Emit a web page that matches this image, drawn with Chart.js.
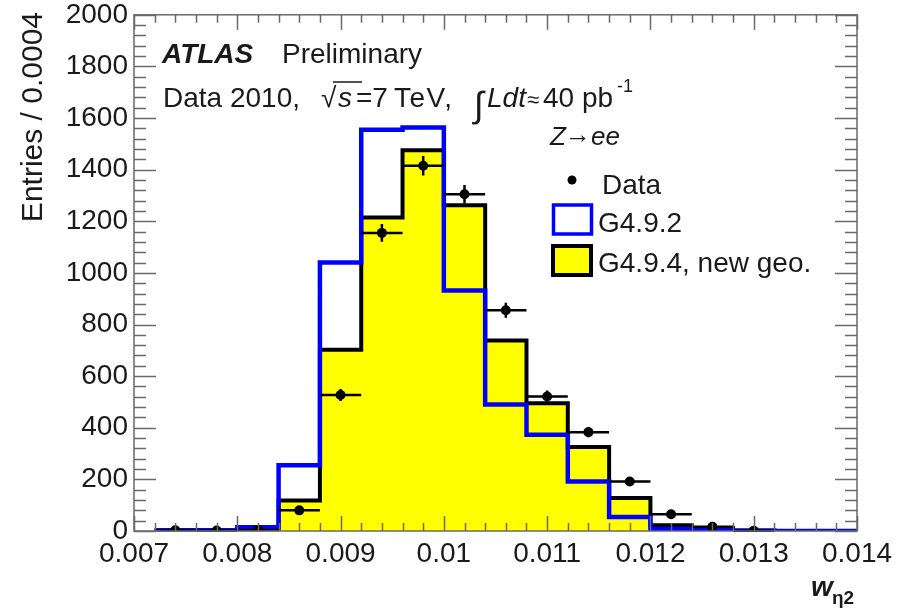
<!DOCTYPE html>
<html>
<head>
<meta charset="utf-8">
<script src="https://cdn.jsdelivr.net/npm/chart.js@4.4.1/dist/chart.umd.min.js"></script>
<style>
html,body{margin:0;padding:0;background:#fff;}
#wrap{width:903px;height:608px;position:relative;}
</style>
</head>
<body>
<div id="wrap"><canvas id="c" width="903" height="608"></canvas></div>
<script>
// ---- data ----
const binEdges = [0.0072,0.0076,0.0080,0.0084,0.0088,0.0092,0.0096,0.0100,0.0104,0.0108,0.0112,0.0116,0.0120,0.0124,0.0128,0.0132,0.0136,0.0140];
const g492 = [3,3,15,255,1040,1555,1563,932,490,373,192,54,8,3,1,0,0];
const g494 = [2,2,3,118,702,1215,1475,1262,738,495,325,128,22,12,2,0,0];
const dataX = [0.0074,0.0078,0.0082,0.0086,0.0090,0.0094,0.0098,0.0102,0.0106,0.0110,0.0114,0.0118,0.0122,0.0126,0.0130];
const dataY = [3,2,4,80,527,1155,1415,1305,855,521,383,192,65,16,1];
const dataErr = [2,1,2,9,23,34,38,36,29,23,20,14,8,4,1];
const xTicks = [0.007,0.008,0.009,0.010,0.011,0.012,0.013,0.014];
const yTicks = [0,200,400,600,800,1000,1200,1400,1600,1800,2000];
const xMinorStep = 0.0002;
const yMinorStep = 40;
const halfBin = 0.0002;

const FONT = "'Liberation Sans', Arial, Helvetica, sans-serif";

function stepPoints(vals){
  const pts = vals.map((v,i)=>({x:binEdges[i], y:v}));
  pts.push({x:binEdges[vals.length], y:vals[vals.length-1]});
  return pts;
}

const framePlugin = {
  id:'frame',
  afterDatasetsDraw(chart){
    const ctx = chart.ctx;
    const xs = chart.scales.x, ys = chart.scales.y;
    ctx.save();
    ctx.strokeStyle = '#000';
    ctx.lineWidth = 2.5;
    ctx.beginPath();
    dataX.forEach((x,i)=>{
      const px = xs.getPixelForValue(x), py = ys.getPixelForValue(dataY[i]);
      const x0 = xs.getPixelForValue(x-halfBin), x1 = xs.getPixelForValue(x+halfBin);
      ctx.moveTo(x0,py); ctx.lineTo(x1,py);
      const e0 = ys.getPixelForValue(dataY[i]-dataErr[i]), e1 = ys.getPixelForValue(dataY[i]+dataErr[i]);
      ctx.moveTo(px,e0); ctx.lineTo(px,e1);
    });
    ctx.stroke();
    ctx.restore();
  },
  afterDraw(chart){
    const ctx = chart.ctx, a = chart.chartArea;
    const xs = chart.scales.x, ys = chart.scales.y;
    ctx.save();
    ctx.strokeStyle = '#6a6a6a';
    ctx.lineWidth = 1.5;
    ctx.strokeRect(a.left, a.top, a.right-a.left, a.bottom-a.top);
    ctx.beginPath();
    const nX = Math.round((xs.max-xs.min)/xMinorStep);
    for(let k=0;k<=nX;k++){
      const v = xs.min + k*xMinorStep;
      const px = Math.round(xs.getPixelForValue(v))+0.5;
      const L = (k%5===0)?15:8;
      ctx.moveTo(px,a.bottom); ctx.lineTo(px,a.bottom-L);
      ctx.moveTo(px,a.top); ctx.lineTo(px,a.top+L);
    }
    const nY = Math.round((ys.max-ys.min)/yMinorStep);
    for(let k=0;k<=nY;k++){
      const v = ys.min + k*yMinorStep;
      const py = Math.round(ys.getPixelForValue(v))+0.5;
      const L = (k%5===0)?22:12;
      ctx.moveTo(a.left,py); ctx.lineTo(a.left+L,py);
      ctx.moveTo(a.right,py); ctx.lineTo(a.right-L,py);
    }
    ctx.stroke();

    ctx.fillStyle = '#1a1a1a';
    ctx.save();
    ctx.translate(34, 12);
    ctx.rotate(-Math.PI/2);
    ctx.font = '30px '+FONT;
    ctx.textAlign='right'; ctx.textBaseline='middle';
    ctx.fillText('Entries / 0.0004', 0, 0);
    ctx.restore();

    ctx.textAlign='left'; ctx.textBaseline='alphabetic';
    ctx.font = 'italic bold 28px '+FONT;
    ctx.fillText('w', 811, 596);
    ctx.font = 'bold 19px '+FONT;
    ctx.fillText('\u03B72', 832, 604);

    ctx.font = 'italic bold 28px '+FONT;
    ctx.fillText('ATLAS', 162, 63);
    ctx.font = '28px '+FONT;
    ctx.fillText('Preliminary', 282, 63);

    const yb = 107;
    ctx.font = '28px '+FONT;
    ctx.fillText('Data 2010,', 163, yb);
    ctx.fillText('\u221A', 321, yb);
    ctx.font = 'italic 28px '+FONT;
    ctx.fillText('s', 338, yb);
    ctx.lineWidth = 1.5; ctx.strokeStyle='#1a1a1a';
    ctx.beginPath(); ctx.moveTo(333,82); ctx.lineTo(362,82); ctx.stroke();
    ctx.font = '28px '+FONT;
    ctx.fillText('=7', 356, yb);
    ctx.save();
    ctx.letterSpacing = '1.5px';
    ctx.fillText('TeV,', 394, yb);
    ctx.restore();
    ctx.font = '36px '+FONT;
    ctx.fillText('\u222B', 474, 117);
    ctx.font = 'italic 28px '+FONT;
    ctx.fillText('Ldt', 487, yb);
    ctx.font = '22px '+FONT;
    ctx.fillText('\u2248', 527, yb);
    ctx.font = '28px '+FONT;
    ctx.fillText('40 pb', 543, yb);
    ctx.font = '18px '+FONT;
    ctx.fillText('-1', 617, 92);

    // legend
    ctx.font = 'italic 26px '+FONT;
    ctx.fillText('Z', 550, 145);
    ctx.font = '26px '+FONT;
    ctx.fillText('\u2192', 565, 143);
    ctx.font = 'italic 26px '+FONT;
    ctx.fillText('ee', 591, 145);

    ctx.beginPath(); ctx.arc(572,180,4.5,0,Math.PI*2); ctx.fillStyle='#000'; ctx.fill();
    ctx.fillStyle = '#1a1a1a';
    ctx.font = '28px '+FONT;
    ctx.fillText('Data', 602, 194);

    ctx.strokeStyle = '#0000ff'; ctx.lineWidth = 3.5;
    ctx.strokeRect(553.5, 205, 38, 29);
    ctx.fillText('G4.9.2', 598, 232);

    ctx.fillStyle = '#ffff00';
    ctx.fillRect(553, 246, 38, 29);
    ctx.strokeStyle = '#000'; ctx.lineWidth = 4;
    ctx.strokeRect(553, 246, 38, 29);
    ctx.fillStyle = '#1a1a1a';
    ctx.fillText('G4.9.4, new geo.', 598, 272);
    ctx.restore();
  }
};

new Chart(document.getElementById('c'), {
  type:'line',
  data:{
    datasets:[
      {
        label:'Data', type:'scatter',
        data:dataX.map((x,i)=>({x:x,y:dataY[i]})),
        showLine:false, pointRadius:5, pointHoverRadius:5,
        pointBackgroundColor:'#000', pointBorderColor:'#000', pointBorderWidth:0,
        order:0
      },
      {
        label:'G4.9.2',
        data:stepPoints(g492),
        stepped:'before', fill:false,
        borderColor:'#0000ff', borderWidth:4.5, pointRadius:0,
        borderJoinStyle:'miter', borderCapStyle:'butt',
        order:1
      },
      {
        label:'G4.9.4, new geo.',
        data:stepPoints(g494),
        stepped:'before', fill:'origin',
        backgroundColor:'#ffff00',
        borderColor:'#000', borderWidth:4, pointRadius:0,
        borderJoinStyle:'miter', borderCapStyle:'butt',
        order:2
      }
    ]
  },
  options:{
    responsive:false, animation:false,
    devicePixelRatio:1,
    layout:{padding:{left:0,right:46,top:13,bottom:0}},
    plugins:{legend:{display:false}, tooltip:{enabled:false}},
    events:[],
    scales:{
      x:{
        type:'linear', min:0.007, max:0.014,
        grid:{display:false}, border:{display:false},
        afterBuildTicks:s=>{ s.ticks = xTicks.map(v=>({value:v})); },
        afterFit:s=>{ s.height = 77; },
        ticks:{
          autoSkip:false, maxRotation:0, padding:-2,
          color:'#1a1a1a', font:{family:FONT,size:28},
          callback:v=>String(Math.round(v*1000)/1000)
        }
      },
      y:{
        type:'linear', min:0, max:2000,
        grid:{display:false}, border:{display:false},
        afterBuildTicks:s=>{ s.ticks = yTicks.map(v=>({value:v})); },
        afterFit:s=>{ s.width = 134; },
        ticks:{
          autoSkip:false, padding:-2,
          color:'#1a1a1a', font:{family:FONT,size:28},
          callback:v=>String(v)
        }
      }
    }
  },
  plugins:[framePlugin]
});
</script>
</body>
</html>
